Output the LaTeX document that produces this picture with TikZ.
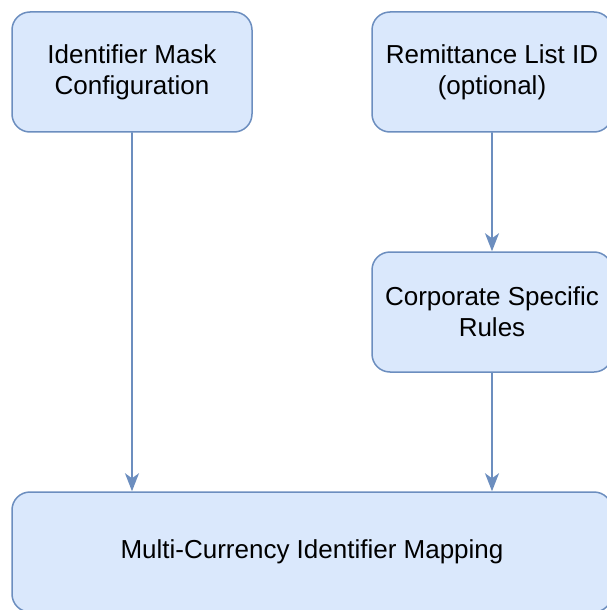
\documentclass[tikz,border=0pt]{standalone}
\usepackage{fontspec}
\setmainfont{Liberation Sans}
\usepackage{tikz}
\usetikzlibrary{arrows.meta}
\usepackage{color}

\begin{document}
\begin{tikzpicture}
		[x=0.5pt,y=-0.5pt,line cap=round,
		%Styles
		step box/.style={draw=boxline, fill=boxfill, line width=0.75pt, rounded corners=9pt,
			minimum width=120pt, minimum height=60pt, inner sep=0pt, align=center,
			font=\fontsize{13}{15.5}\selectfont},
		flow line/.style={draw=boxline, line width=0.75pt, -{Stealth[length=9pt,width=7pt,inset=2.5pt]}}
		]
		
		%Colors
		\definecolor{boxfill}{HTML}{DAE8FC}	%box inside
		\definecolor{boxline}{HTML}{6C8EBF}	%box border and arrows
		
		\useasboundingbox (0,0) rectangle (606,610);
		
		%The graphic
		\node[step box] (idmask) at (132,72) {Identifier Mask\\Configuration};
		\node[step box] (remitlist) at (492,72) {Remittance List ID\\(optional)};
		\node[step box] (corprules) at (492,312) {Corporate Specific\\Rules};
		\node[step box, minimum width=300pt] (mapping) at (312,552) {Multi-Currency Identifier Mapping};
		
		\draw[flow line] (remitlist) -- (corprules);
		\draw[flow line] (idmask) -- (idmask |- mapping.north);
		\draw[flow line] (corprules) -- (corprules |- mapping.north);
	\end{tikzpicture}
\end{document}
